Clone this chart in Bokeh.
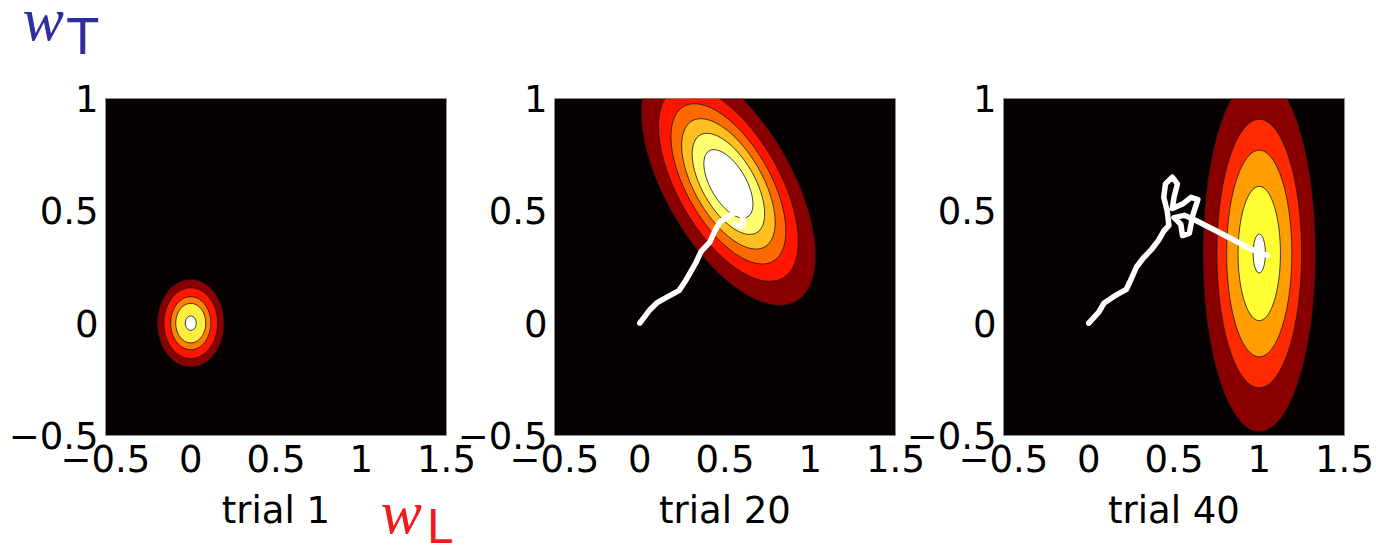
import numpy as np
from bokeh.plotting import figure
from bokeh.layouts import row, column
from bokeh.models import Range1d, FixedTicker
from bokeh.core.properties import value
from bokeh.embed import file_html
from bokeh.resources import INLINE

# ---- chart content -------------------------------------------------------
panel_titles = ["trial 1", "trial 20", "trial 40"]
x_ticks = [-0.5, 0.0, 0.5, 1.0, 1.5]
y_ticks = [-0.5, 0.0, 0.5, 1.0]
tick_text = {-0.5: "\u22120.5", 0.0: "0", 0.5: "0.5", 1.0: "1", 1.5: "1.5"}

# Gaussian belief over (w_L, w_T) in each panel (read from the ellipses)
mean_x = [0.0, 0.52, 1.0]
mean_y = [0.0, 0.62, 0.31]
sd_x = [0.10, 0.259, 0.16]
sd_y = [0.10, 0.274, 0.385]
corr = [0.0, -0.59, 0.0]

# filled-contour levels, as fraction of the peak density
levels_1 = [0.15, 0.29, 0.50, 0.68, 0.95]
levels_20 = [0.143, 0.286, 0.429, 0.571, 0.714, 0.857]
levels_40 = [0.12, 0.30, 0.49, 0.74, 0.975]

colors_1 = ["#8a0000", "#ff1500", "#ff8000", "#ffee40", "#ffffff"]
colors_20 = ["#8a0000", "#ff1500", "#ff6a00", "#ffbf20", "#ffff70", "#ffffff"]
colors_40 = ["#8a0000", "#ff2a00", "#ff9c00", "#ffff33", "#ffffff"]

# weight trajectories (white paths)
traj20_x = [0.0, 0.06, 0.10, 0.17, 0.23, 0.27, 0.33, 0.36, 0.41, 0.44, 0.47,
            0.51, 0.55, 0.59, 0.61, 0.60, 0.56]
traj20_y = [0.0, 0.06, 0.09, 0.12, 0.145, 0.19, 0.27, 0.32, 0.36, 0.41, 0.45,
            0.47, 0.49, 0.49, 0.46, 0.43, 0.44]

traj40_x = [0.0, 0.06, 0.09, 0.15, 0.22, 0.245, 0.28, 0.32, 0.37, 0.41, 0.44,
            0.47, 0.46, 0.44, 0.45, 0.49, 0.52, 0.50, 0.49, 0.55, 0.60, 0.64,
            0.61, 0.59, 0.55, 0.54, 0.50, 0.56, 0.62, 0.80, 0.95, 1.05]
traj40_y = [0.0, 0.05, 0.09, 0.12, 0.15, 0.19, 0.25, 0.29, 0.33, 0.37, 0.41,
            0.435, 0.50, 0.56, 0.62, 0.65, 0.62, 0.56, 0.51, 0.53, 0.56, 0.55,
            0.48, 0.40, 0.39, 0.44, 0.47, 0.48, 0.46, 0.39, 0.33, 0.30]

# variable-name labels: (text, font, style, size) for w_T and w_L
var_T = [("w", "Liberation Serif", "italic", "62px"), ("T", "DejaVu Sans", "normal", "50px")]
var_L = [("w", "Liberation Serif", "italic", "62px"), ("L", "DejaVu Sans", "normal", "46px")]

FONT = "DejaVu Sans"
TICK_SIZE = "37px"


def density(k, X, Y):
    dx = (X - mean_x[k]) / sd_x[k]
    dy = (Y - mean_y[k]) / sd_y[k]
    r = corr[k]
    q = (dx * dx - 2 * r * dx * dy + dy * dy) / (1 - r * r)
    return np.exp(-0.5 * q)


def make_panel(k, levels, colors, border_left, border_right, tx=None, ty=None):
    p = figure(frame_width=341, frame_height=337,
               min_border_left=border_left, min_border_right=border_right,
               min_border_top=98, min_border_bottom=111,
               x_range=Range1d(-0.5, 1.5), y_range=Range1d(-0.5, 1.0),
               output_backend="svg", toolbar_location=None, tools="")
    p.background_fill_color = "#060000"
    p.border_fill_color = None
    p.outline_line_color = "#8c8c8c"
    p.outline_line_width = 1
    p.grid.visible = False

    xs = np.linspace(-0.5, 1.5, 401)
    ys = np.linspace(-0.5, 1.0, 301)
    X, Y = np.meshgrid(xs, ys)
    Z = density(k, X, Y)
    p.contour(xs, ys, Z, levels=list(levels) + [1.01], fill_color=colors,
              line_color="#1a1a1a", line_width=1, line_alpha=0.8)

    if tx is not None:
        p.line(tx, ty, line_color="white", line_width=5.5,
               line_join="round", line_cap="round")

    for ax in (p.xaxis[0], p.yaxis[0]):
        ax.axis_line_color = None
        ax.major_tick_line_color = None
        ax.minor_tick_line_color = None
        ax.major_tick_in = 0
        ax.major_tick_out = 0
        ax.minor_tick_in = 0
        ax.minor_tick_out = 0
        ax.major_label_text_font = FONT
        ax.major_label_text_font_size = TICK_SIZE
        ax.major_label_text_color = "#000000"
        ax.major_label_overrides = dict(tick_text)
    p.xaxis.ticker = FixedTicker(ticks=x_ticks)
    p.yaxis.ticker = FixedTicker(ticks=y_ticks)
    p.xaxis.major_label_standoff = 9
    p.yaxis.major_label_standoff = 7
    p.xaxis.axis_label = panel_titles[k]
    p.xaxis.axis_label_text_font = FONT
    p.xaxis.axis_label_text_font_size = TICK_SIZE
    p.xaxis.axis_label_text_font_style = "normal"
    p.xaxis.axis_label_text_color = "#000000"
    p.xaxis.axis_label_standoff = 14
    return p


def name_box(parts, color, width, height, xs, ys):
    # small transparent canvas holding a variable name; coordinates are pixels
    # measured from the box's top-left corner
    f = figure(title=None, frame_width=width, frame_height=height, min_border=0,
               x_range=Range1d(0, width), y_range=Range1d(height, 0),
               x_axis_type=None, y_axis_type=None,
               output_backend="svg", toolbar_location=None, tools="")
    f.outline_line_color = None
    f.background_fill_color = None
    f.border_fill_color = None
    for (txt, font, style, size), x, y in zip(parts, xs, ys):
        f.text(x=[x], y=[y], text=[txt], text_font=value(font),
               text_font_style=style, text_font_size=size, text_color=color,
               text_align="left", text_baseline="alphabetic")
    return f


p1 = make_panel(0, levels_1, colors_1, 105, 30)
p2 = make_panel(1, levels_20, colors_20, 100, 30, traj20_x, traj20_y)
p3 = make_panel(2, levels_40, colors_40, 100, 32, traj40_x, traj40_y)
p2.margin = (0, 0, 0, -22)
p3.margin = (0, 0, 0, -22)

TOP_H = 80
BOT_H = 62
top_name = name_box(var_T, "#2e2e9c", 140, TOP_H, [22, 67], [18, 36])
bottom_name = name_box(var_L, "#ee1c1c", 110, BOT_H, [15, 61], [27, 42])
bottom_name.margin = (-BOT_H, 0, 0, 365)

panels = row(p1, p2, p3)
panels.margin = (-TOP_H, 0, 0, 0)

layout = column(top_name, panels, bottom_name)
open("out.html", "w").write(file_html(layout, INLINE))
